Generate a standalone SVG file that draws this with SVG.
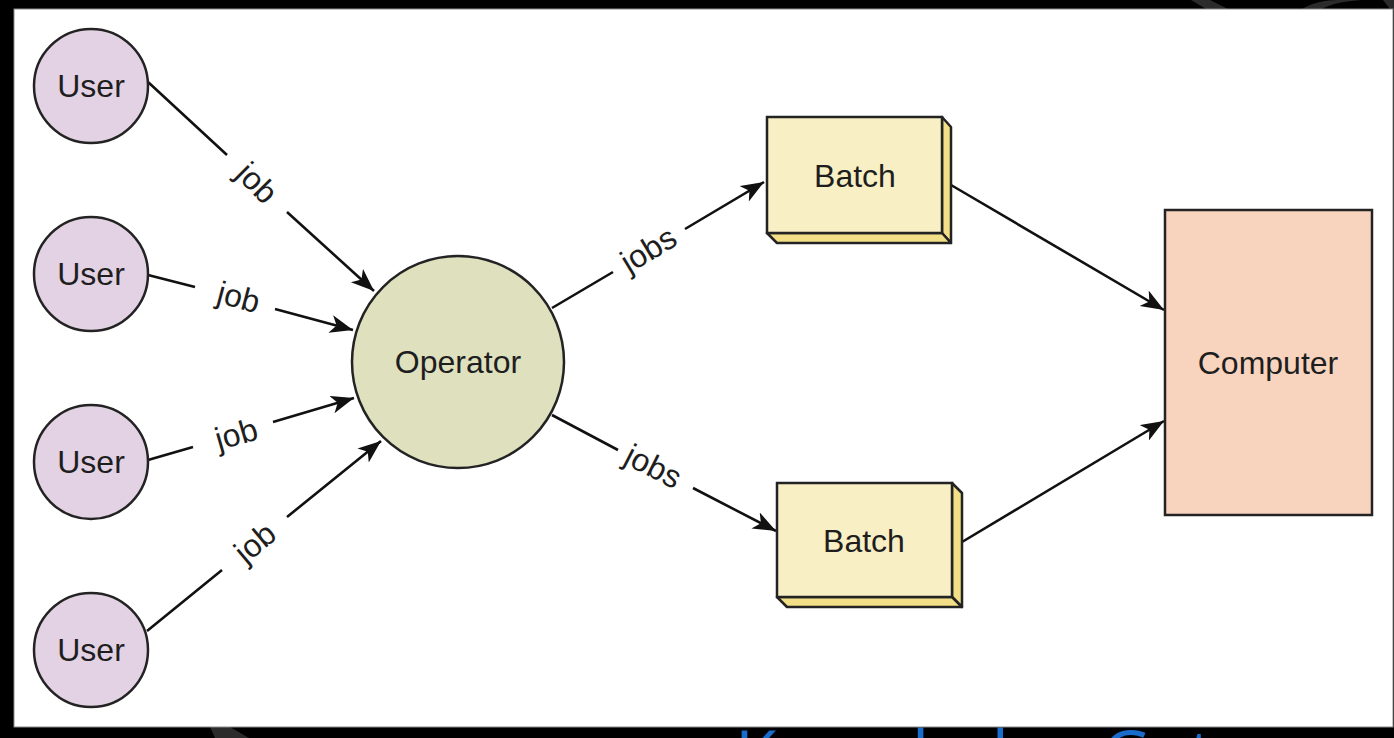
<svg xmlns="http://www.w3.org/2000/svg" width="1394" height="738" viewBox="0 0 1394 738">
<defs>
<style>
.lbl{font-family:"Liberation Sans",Arial,sans-serif;font-size:32px;fill:#1e1e1e;text-anchor:middle}
.node{stroke:#232323;stroke-width:2.5}
.user{fill:#e3d2e3}
.conn{fill:none;stroke:#111;stroke-width:2.6}
.wm{fill:#2b2b2b}
</style>
<marker id="arr" markerUnits="userSpaceOnUse" markerWidth="28" markerHeight="20" refX="23" refY="9" orient="auto">
<path d="M0,0 L23,9 L0,18 L6,9 Z" fill="#111"/>
</marker>
</defs>
<rect x="0" y="0" width="1394" height="738" fill="#000"/>
<g id="watermark">
<polygon class="wm" points="1191,0 1210,0 1228,9 1206,9"/>
<path class="wm" d="M1302,9 C1312,3 1325,0 1338,0 L1362,0 C1345,1 1330,4 1322,9 Z"/>
<polygon class="wm" points="1383,0 1394,0 1394,9 1390,9"/>
<polygon class="wm" points="210,727 230,727 249,738 215,738"/>
<text x="735" y="779" font-family="'Open Sans','Liberation Sans',sans-serif" font-size="68" fill="#1a6ccc">Knowledge Gate</text>
</g>
<rect x="14" y="9" width="1379" height="718" fill="#fff" stroke="#8a8a8a" stroke-width="1"/>
<g id="connectors">
<path class="conn" d="M148,82 L227,155 M287,212 L374,291" marker-end="url(#arr)"/>
<path class="conn" d="M148,275 L195,287 M275,309 L353,330" marker-end="url(#arr)"/>
<path class="conn" d="M148,460 L193,447 M273,422 L354,398" marker-end="url(#arr)"/>
<path class="conn" d="M147,631 L222,570 M287,517 L381,441" marker-end="url(#arr)"/>
<path class="conn" d="M552,308 L613,272 M685,229 L764,182" marker-end="url(#arr)"/>
<path class="conn" d="M552,415 L618,450 M693,488 L776,531" marker-end="url(#arr)"/>
<path class="conn" d="M951,185 L1164,310" marker-end="url(#arr)"/>
<path class="conn" d="M957,545 L1164,421" marker-end="url(#arr)"/>
<text class="lbl" transform="translate(255,185) rotate(45)" y="8">job</text>
<text class="lbl" transform="translate(238,300) rotate(15)" y="8">job</text>
<text class="lbl" transform="translate(237,437) rotate(-16)" y="8">job</text>
<text class="lbl" transform="translate(257,545) rotate(-40)" y="8">job</text>
<text class="lbl" transform="translate(650,252) rotate(-31)" y="8">jobs</text>
<text class="lbl" transform="translate(652,469) rotate(27)" y="8">jobs</text>
</g>
<g id="user1"><circle class="node user" cx="91" cy="86" r="57"/><text class="lbl" x="91" y="97">User</text></g>
<g id="user2"><circle class="node user" cx="91" cy="274" r="57"/><text class="lbl" x="91" y="285">User</text></g>
<g id="user3"><circle class="node user" cx="91" cy="462" r="57"/><text class="lbl" x="91" y="473">User</text></g>
<g id="user4"><circle class="node user" cx="91" cy="650" r="57"/><text class="lbl" x="91" y="661">User</text></g>
<g id="operator"><circle class="node" cx="458" cy="362" r="106" fill="#dfe0be"/><text class="lbl" x="458" y="373">Operator</text></g>
<g id="batch1">
<polygon class="node" points="942,117 951,127 951,243 942,233" fill="#f3df88" stroke-linejoin="round"/>
<polygon class="node" points="767,233 942,233 951,243 777,243" fill="#f3df88" stroke-linejoin="round"/>
<rect class="node" x="767" y="117" width="175" height="116" fill="#f8efc4"/>
<text class="lbl" x="855" y="187">Batch</text>
</g>
<g id="batch2">
<polygon class="node" points="952,483 962,493 962,607 952,597" fill="#f3df88" stroke-linejoin="round"/>
<polygon class="node" points="777,597 952,597 962,607 787,607" fill="#f3df88" stroke-linejoin="round"/>
<rect class="node" x="777" y="483" width="175" height="114" fill="#f8efc4"/>
<text class="lbl" x="864" y="552">Batch</text>
</g>
<g id="computer"><rect class="node" x="1165" y="210" width="207" height="305" fill="#f8d4bf"/><text class="lbl" x="1268" y="374">Computer</text></g>
</svg>
